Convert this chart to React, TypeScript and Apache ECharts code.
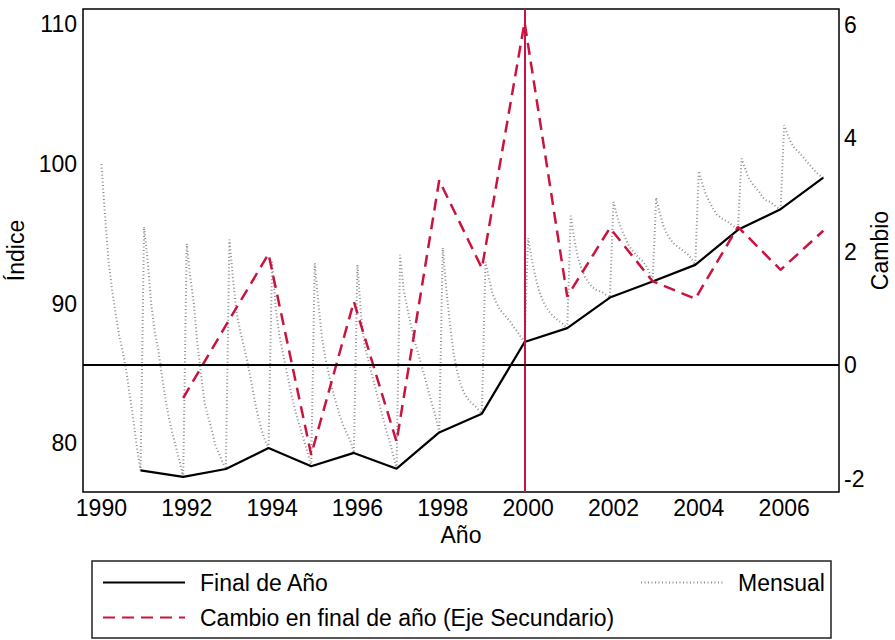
import React, { useEffect, useRef } from "react";
import * as echarts from "echarts";

const FONT = "'Liberation Sans', Arial, Helvetica, sans-serif";

// Tick labels
const xTicks = [1990, 1992, 1994, 1996, 1998, 2000, 2002, 2004, 2006];
const yLeftTicks = [80, 90, 100, 110];
const yRightTicks = [-2, 0, 2, 4, 6];

// Year-end index (December of each year)
const yearEndYears = [1990, 1991, 1992, 1993, 1994, 1995, 1996, 1997, 1998, 1999, 2000, 2001, 2002, 2003, 2004, 2005, 2006];
const yearEndValues = [78.06, 77.59, 78.16, 79.66, 78.35, 79.31, 78.18, 80.78, 82.12, 87.25, 88.25, 90.44, 91.59, 92.78, 95.29, 96.77, 99.03];

// Percent change of year-end (secondary axis)
const changeYears = [1991, 1992, 1993, 1994, 1995, 1996, 1997, 1998, 1999, 2000, 2001, 2002, 2003, 2004, 2005, 2006];
const changeValues = [-0.58, 0.7, 1.96, -1.58, 1.12, -1.35, 3.26, 1.71, 6.05, 1.21, 2.42, 1.48, 1.17, 2.44, 1.68, 2.37];

// Monthly index, one row per year (Jan..Dec)
const monthlyYears = [1990, 1991, 1992, 1993, 1994, 1995, 1996, 1997, 1998, 1999, 2000, 2001, 2002, 2003, 2004, 2005, 2006];
const monthlyValues = [
  [100.0, 96.4, 93.1, 91.0, 89.3, 87.7, 86.6, 85.2, 83.4, 81.7, 79.7, 78.06],
  [95.5, 93.1, 90.0, 88.0, 86.7, 84.9, 83.2, 81.8, 80.7, 79.7, 78.7, 77.59],
  [94.3, 91.9, 90.0, 87.1, 85.0, 82.9, 81.9, 81.0, 79.9, 79.3, 78.7, 78.16],
  [94.6, 91.8, 89.4, 88.1, 87.0, 85.9, 84.6, 83.2, 82.0, 81.0, 80.2, 79.66],
  [93.0, 89.8, 87.8, 86.5, 85.3, 84.0, 82.9, 81.9, 81.0, 80.2, 79.3, 78.35],
  [92.9, 90.1, 87.6, 86.1, 84.9, 83.8, 82.9, 82.0, 81.3, 80.7, 80.2, 79.31],
  [92.8, 89.2, 87.0, 86.0, 85.0, 84.0, 83.0, 82.0, 81.0, 80.2, 79.2, 78.18],
  [93.5, 91.0, 89.7, 88.5, 87.4, 86.5, 85.6, 84.7, 83.7, 82.8, 81.9, 80.78],
  [94.0, 91.0, 88.6, 86.5, 85.2, 84.2, 83.6, 83.2, 82.9, 82.7, 82.4, 82.12],
  [93.0, 91.8, 90.7, 90.1, 89.6, 89.3, 89.0, 88.7, 88.3, 88.0, 87.6, 87.25],
  [94.7, 93.2, 92.0, 91.0, 90.3, 89.8, 89.4, 89.1, 88.9, 88.7, 88.5, 88.25],
  [96.3, 94.6, 93.3, 92.5, 91.9, 91.5, 91.2, 91.0, 90.9, 90.8, 90.6, 90.44],
  [97.3, 96.3, 95.5, 94.9, 94.3, 93.9, 93.6, 93.3, 93.1, 92.8, 92.3, 91.59],
  [97.6, 96.5, 95.6, 95.0, 94.6, 94.3, 94.1, 93.9, 93.7, 93.5, 93.2, 92.78],
  [99.5, 98.6, 97.8, 97.3, 96.8, 96.4, 96.2, 96.0, 95.9, 95.7, 95.5, 95.29],
  [100.4, 99.7, 99.0, 98.6, 98.3, 98.0, 97.6, 97.4, 97.3, 97.1, 96.9, 96.77],
  [102.8, 102.1, 101.5, 101.1, 100.9, 100.6, 100.3, 100.0, 99.7, 99.4, 99.2, 99.03],
];

const eventDate = 1999 + 11 / 12;

const RED = "#C8143F";
const GRAY = "#8e8e8e";

export default function App() {
  const ref = useRef<HTMLDivElement>(null);

  useEffect(() => {
    document.body.style.margin = "0";
    const chart = echarts.init(ref.current!, null, { renderer: "svg" });

    const monthlyData: number[][] = [];
    monthlyYears.forEach((y, i) => {
      monthlyValues[i].forEach((v, m) => monthlyData.push([y + m / 12, v]));
    });
    const yearEndData = yearEndYears.map((y, i) => [y + 11 / 12, yearEndValues[i]]);
    const changeData = changeYears.map((y, i) => [y + 11 / 12, changeValues[i]]);

    const textBase = { fontFamily: FONT, fontSize: 23, color: "#000" };
    const legendBase = {
      itemWidth: 82,
      itemHeight: 14,
      padding: 0,
      selectedMode: false,
      itemStyle: { opacity: 0 },
      textStyle: { ...textBase, padding: [0, 0, 0, 10] },
    };

    chart.setOption({
      animation: false,
      textStyle: { fontFamily: FONT },
      grid: {
        left: 83,
        right: 56,
        top: 9,
        bottom: 148,
        show: true,
        containLabel: false,
        outerBoundsMode: "none",
        borderColor: "#000",
        borderWidth: 1.5,
        backgroundColor: "#fff",
      },
      xAxis: {
        type: "value",
        min: 1989.569,
        max: 2007.285,
        name: "Año",
        nameLocation: "middle",
        nameGap: 29,
        nameTextStyle: textBase,
        axisLine: { show: false },
        axisTick: { show: false },
        splitLine: { show: false },
        axisLabel: {
          ...textBase,
          margin: 4,
          customValues: xTicks,
          formatter: (v: number) => String(Math.round(v)),
        },
      },
      yAxis: [
        {
          type: "value",
          min: 76.51,
          max: 111.11,
          name: "Índice",
          nameLocation: "middle",
          nameGap: 47,
          nameTextStyle: textBase,
          axisLine: { show: false },
          axisTick: { show: false },
          splitLine: { show: false },
          axisLabel: {
            ...textBase,
            margin: 6,
            customValues: yLeftTicks,
            formatter: (v: number) => String(Math.round(v)),
          },
        },
        {
          type: "value",
          position: "right",
          min: -2.238,
          max: 6.282,
          name: "Cambio",
          nameLocation: "middle",
          nameGap: 29,
          nameMoveOverlap: false,
          nameTextStyle: textBase,
          axisLine: { show: false },
          axisTick: { show: false },
          splitLine: { show: false },
          axisLabel: {
            ...textBase,
            margin: 5,
            customValues: yRightTicks,
            formatter: (v: number) => String(Math.round(v)),
          },
        },
      ],
      legend: [
        { ...legendBase, data: ["Final de Año"], left: 102, top: 571 },
        { ...legendBase, data: ["Mensual"], left: 640, top: 571 },
        { ...legendBase, data: ["Cambio en final de año (Eje Secundario)"], left: 102, top: 606 },
      ],
      graphic: [
        {
          type: "rect",
          shape: { x: 92, y: 561, width: 739, height: 77 },
          style: { fill: "none", stroke: "#222", lineWidth: 1.5 },
          silent: true,
        },
      ],
      series: [
        {
          name: "Mensual",
          type: "line",
          data: monthlyData,
          showSymbol: false,
          symbol: "none",
          z: 1,
          lineStyle: { color: GRAY, width: 2, type: [1, 2.5] },
          itemStyle: { color: GRAY },
          markLine: {
            silent: true,
            symbol: "none",
            label: { show: false },
            lineStyle: { color: RED, width: 2, type: "solid" },
            data: [{ xAxis: eventDate }],
          },
        },
        {
          name: "Final de Año",
          type: "line",
          data: yearEndData,
          showSymbol: false,
          symbol: "none",
          z: 3,
          lineStyle: { color: "#000", width: 2.2, type: "solid" },
          itemStyle: { color: "#000" },
        },
        {
          name: "Cambio en final de año (Eje Secundario)",
          type: "line",
          yAxisIndex: 1,
          data: changeData,
          showSymbol: false,
          symbol: "none",
          z: 4,
          lineStyle: { color: RED, width: 2.5, type: [12, 7] },
          itemStyle: { color: RED },
          markLine: {
            silent: true,
            symbol: "none",
            label: { show: false },
            lineStyle: { color: "#000", width: 2, type: "solid" },
            data: [{ yAxis: 0 }],
          },
        },
      ],
    });

    return () => chart.dispose();
  }, []);

  return (
    <div
      ref={ref}
      style={{ position: "absolute", left: 0, top: 0, width: 895, height: 640, background: "#fff" }}
    />
  );
}
